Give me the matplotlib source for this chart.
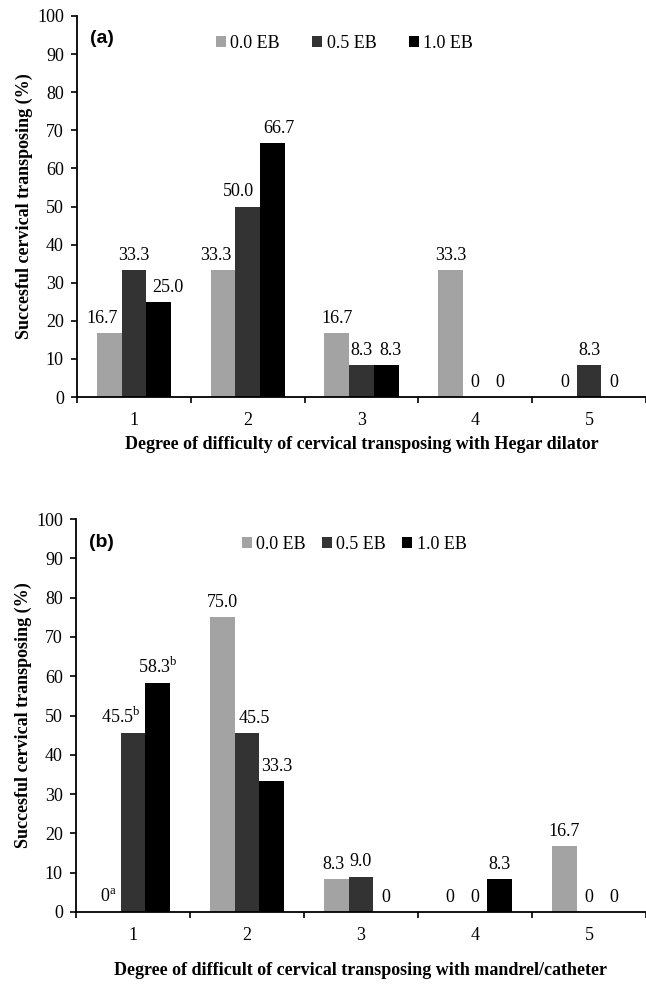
import matplotlib
matplotlib.use('Agg')
import matplotlib.pyplot as plt
from matplotlib.patches import Patch
import numpy as np

plt.rcParams['font.family'] = ['Liberation Serif', 'DejaVu Serif']
plt.rcParams['mathtext.fontset'] = 'custom'
plt.rcParams['mathtext.rm'] = 'Liberation Serif'

# categories and series
degrees = ['1', '2', '3', '4', '5']
series_names = ['0.0 EB', '0.5 EB', '1.0 EB']
colors = ['#a3a3a3', '#333333', '#000000']

# panel (a): Hegar dilator
a_eb00 = [16.7, 33.3, 16.7, 33.3, 0]
a_eb05 = [33.3, 50.0, 8.3, 0, 8.3]
a_eb10 = [25.0, 66.7, 8.3, 0, 0]
a_lab00 = ['16.7', '33.3', '16.7', '33.3', '0']
a_lab05 = ['33.3', '50.0', '8.3', '0', '8.3']
a_lab10 = ['25.0', '66.7', '8.3', '0', '0']

# panel (b): mandrel/catheter
b_eb00 = [0, 75.0, 8.3, 0, 16.7]
b_eb05 = [45.5, 45.5, 9.0, 0, 0]
b_eb10 = [58.3, 33.3, 0, 8.3, 0]
b_lab00 = [r'0$^{\mathrm{a}}$', '75.0', '8.3', '0', '16.7']
b_lab05 = [r'45.5$^{\mathrm{b}}$', '45.5', '9.0', '0', '0']
b_lab10 = [r'58.3$^{\mathrm{b}}$', '33.3', '0', '8.3', '0']

# small sideways nudges (pixels) for labels that would collide, keyed (series, category)
a_nudge = {(0, 0): -7, (2, 0): 9, (0, 1): -7, (1, 1): -9, (2, 1): 6, (2, 2): 4}
b_nudge = {(1, 0): -12, (1, 1): 7, (2, 1): 5, (0, 2): -3}

yticks = np.arange(0, 101, 10)

fig = plt.figure(figsize=(6.46, 9.84), dpi=100)
ax_a = fig.add_axes([77/646, 1-397/984, 569/646, 381/984])
ax_b = fig.add_axes([76/646, 1-912/984, 570/646, 393/984])


def draw_panel(ax, values, labels, nudge, tag, xlabel, xlabel_pad, leg_x, leg_y, colspace):
    x = np.arange(1, len(degrees) + 1)
    w = 0.217
    for i, (vals, labs) in enumerate(zip(values, labels)):
        pos = x + (i - 1) * w
        ax.bar(pos, vals, width=w, color=colors[i], edgecolor='none', zorder=2)
        for j, (p, v, t) in enumerate(zip(pos, vals, labs)):
            dx = nudge.get((i, j), 0) * 0.72
            ax.annotate(t, (p, v), xytext=(dx, 4.5), textcoords='offset points',
                        ha='center', va='bottom', fontsize=13, zorder=3)
    ax.set_xlim(0.5, 0.5 + 569/115)
    ax.set_ylim(0, 100)
    ax.set_yticks(yticks)
    ax.spines['top'].set_visible(False)
    ax.spines['right'].set_visible(False)
    ax.spines['left'].set_linewidth(1.3)
    ax.spines['bottom'].set_linewidth(1.3)
    ax.tick_params(axis='y', direction='out', length=4.5, width=1.2, pad=5, labelsize=13)
    ax.set_xticks(np.arange(0.5, 5.6, 1))
    ax.set_xticklabels([])
    ax.set_xticks(x, minor=True)
    ax.set_xticklabels(degrees, minor=True)
    ax.tick_params(axis='x', which='major', direction='out', length=4.5, width=1.2)
    ax.tick_params(axis='x', which='minor', length=0, pad=11, labelsize=13)
    ax.set_xlabel(xlabel, fontsize=13, fontweight='bold', labelpad=xlabel_pad)
    ax.set_ylabel('Succesful cervical transposing (%)', fontsize=13,
                  fontweight='bold', labelpad=3)
    ax.text(0.613, 94, tag, fontsize=14, fontweight='bold',
            family='Liberation Sans', ha='left', va='center')
    handles = [Patch(facecolor=c, edgecolor='none') for c in colors]
    ax.legend(handles, series_names, loc='center', bbox_to_anchor=(leg_x, leg_y),
              ncol=3, frameon=False, fontsize=13, handlelength=0.55,
              handleheight=0.55, handletextpad=0.25, columnspacing=colspace)


draw_panel(ax_a, [a_eb00, a_eb05, a_eb10], [a_lab00, a_lab05, a_lab10], a_nudge, '(a)',
           'Degree of difficulty of cervical transposing with Hegar dilator',
           5, 0.47, 0.929, 1.8)
draw_panel(ax_b, [b_eb00, b_eb05, b_eb10], [b_lab00, b_lab05, b_lab10], b_nudge, '(b)',
           'Degree of difficult of cervical transposing with mandrel/catheter',
           13, 0.488, 0.936, 0.9)

fig.savefig('out.png', dpi=100)
